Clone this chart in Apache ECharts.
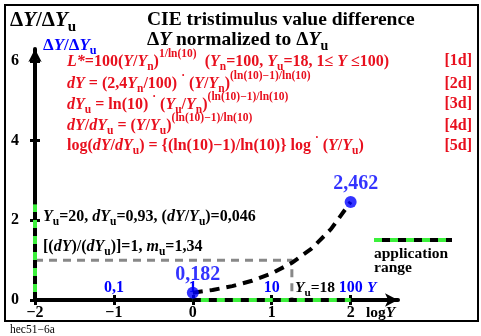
<!DOCTYPE html>
<html><head><meta charset="utf-8">
<script src="https://cdn.jsdelivr.net/npm/echarts@6/dist/echarts.min.js"></script>
<style>html,body{margin:0;padding:0;background:#fff}#c{width:481px;height:336px}</style>
</head><body><div id="c"></div>
<script>
// ---- data ----
const logY = [0, 0.25, 0.5, 0.75, 1, 1.25, 1.5, 1.75, 2];
const ratio = [0.182, 0.252, 0.349, 0.483, 0.669, 0.927, 1.283, 1.777, 2.462];
const endPoints = [[0, 0.182], [2, 2.462]];
const xTicks = [-2, -1, 0, 1, 2];
const yTicks = [0, 2, 4, 6];
const yValueTicks = [-1, 0, 1, 2];
const yValueLabels = ['0,1', '1', '10', '100'];
const appRangeX = [0, 2];
const appRangeY = [0, 2.4];
const refLevel = 1;
const logYu = 1.255;
const xMin = -2, xMax = 2.6, yMin = 0, yMax = 6.3;

const FF = '"Liberation Serif","Times New Roman",serif';
const BLUE = '#0000ff', RED = '#e8101e', GREEN = '#3cf03c';

const mctx = document.createElement('canvas').getContext('2d');
const KINDS = {
  n: {it: 0, sc: 1, dy: 0},
  i: {it: 1, sc: 1, dy: 0},
  sub: {it: 0, sc: 0.72, dy: 0.22},
  sup: {it: 0, sc: 0.72, dy: -0.55}
};
function fontStr(k, S) {
  const d = KINDS[k];
  return (d.it ? 'italic ' : '') + 'bold ' + (S * d.sc).toFixed(1) + 'px ' + FF;
}
function rich(x, base, tokens, S, color, align) {
  let w = 0;
  const ms = tokens.map(t => { mctx.font = fontStr(t[1], S); const tw = mctx.measureText(t[0]).width; w += tw; return tw; });
  let cx = align === 'right' ? x - w : x;
  const out = [];
  tokens.forEach((t, idx) => {
    const d = KINDS[t[1]];
    const sz = S * d.sc;
    out.push({type: 'text', silent: true, z: 100,
      style: {x: cx, y: base + d.dy * S - 0.34 * sz, text: t[0], font: fontStr(t[1], S), fill: color,
        align: 'left', verticalAlign: 'middle', textAlign: 'left', textVerticalAlign: 'middle'}});
    cx += ms[idx];
  });
  return out;
}

const EXP = '(ln(10)\u22121)/ln(10)';
const graphics = [];
graphics.push({type: 'rect', silent: true, shape: {x: 5, y: 5, width: 473, height: 316}, style: {fill: 'none', stroke: '#000', lineWidth: 2}});
const dYYu = [['\u0394', 'n'], ['Y', 'i'], ['/\u0394', 'n'], ['Y', 'i'], ['u', 'sub']];
graphics.push(...rich(10, 28, dYYu, 21, '#000'));
graphics.push(...rich(147, 27, [['CIE tristimulus value difference', 'n']], 19.5, '#000'));
graphics.push(...rich(147, 47, [['\u0394', 'n'], ['Y', 'i'], [' normalized to \u0394', 'n'], ['Y', 'i'], ['u', 'sub']], 19.5, '#000'));
graphics.push(...rich(43, 51, dYYu, 17, BLUE));
const S = 16;
graphics.push(...rich(67, 67, [['L*', 'i'], ['=100(', 'n'], ['Y', 'i'], ['/', 'n'], ['Y', 'i'], ['n', 'sub'], [')', 'n'], ['1/ln(10)', 'sup'],
  ['  (', 'n'], ['Y', 'i'], ['n', 'sub'], ['=100, ', 'n'], ['Y', 'i'], ['u', 'sub'], ['=18, 1\u2264 ', 'n'], ['Y', 'i'], [' \u2264100)', 'n']], S, RED));
graphics.push(...rich(67, 89, [['dY', 'i'], [' = (2,4', 'n'], ['Y', 'i'], ['n', 'sub'], ['/100) ', 'n'], ['\u00b7', 'sup'], [' (', 'n'], ['Y', 'i'], ['/', 'n'], ['Y', 'i'], ['n', 'sub'], [')', 'n'], [EXP, 'sup']], S, RED));
graphics.push(...rich(67, 110, [['dY', 'i'], ['u', 'sub'], [' = ln(10) ', 'n'], ['\u00b7', 'sup'], [' (', 'n'], ['Y', 'i'], ['u', 'sub'], ['/', 'n'], ['Y', 'i'], ['n', 'sub'], [')', 'n'], [EXP, 'sup']], S, RED));
graphics.push(...rich(67, 131, [['dY', 'i'], ['/', 'n'], ['dY', 'i'], ['u', 'sub'], [' = (', 'n'], ['Y', 'i'], ['/', 'n'], ['Y', 'i'], ['u', 'sub'], [')', 'n'], [EXP, 'sup']], S, RED));
graphics.push(...rich(67, 151, [['log(', 'n'], ['dY', 'i'], ['/', 'n'], ['dY', 'i'], ['u', 'sub'], [') = {(ln(10)\u22121)/ln(10)} log ', 'n'], ['\u00b7', 'sup'], [' (', 'n'], ['Y', 'i'], ['/', 'n'], ['Y', 'i'], ['u', 'sub'], [')', 'n']], S, RED));
[['[1d]', 66], ['[2d]', 89], ['[3d]', 109], ['[4d]', 131], ['[5d]', 151]].forEach(r => graphics.push(...rich(472, r[1], [[r[0], 'n']], S, RED, 'right')));
graphics.push(...rich(43, 222, [['Y', 'i'], ['u', 'sub'], ['=20, ', 'n'], ['dY', 'i'], ['u', 'sub'], ['=0,93, (', 'n'], ['dY', 'i'], ['/', 'n'], ['Y', 'i'], ['u', 'sub'], [')=0,046', 'n']], S, '#000'));
graphics.push(...rich(43, 252, [['[(', 'n'], ['dY', 'i'], [')/(', 'n'], ['dY', 'i'], ['u', 'sub'], [')]=1, ', 'n'], ['m', 'i'], ['u', 'sub'], ['=1,34', 'n']], S, '#000'));
graphics.push(...rich(295, 293, [['Y', 'i'], ['u', 'sub'], ['=18', 'n']], 15.5, '#000'));
graphics.push(...rich(367, 293, [['Y', 'i']], 15.5, BLUE));
graphics.push(...rich(366, 318, [['log', 'n'], ['Y', 'i']], 15.5, '#000'));
graphics.push(...rich(374, 259, [['application', 'n']], 15.5, '#000'));
graphics.push(...rich(374, 273, [['range', 'n']], 15.5, '#000'));
graphics.push({type: 'line', silent: true, z: 100, shape: {x1: 374, y1: 240, x2: 452, y2: 240}, style: {stroke: GREEN, lineWidth: 4}});
graphics.push({type: 'line', silent: true, z: 101, shape: {x1: 374, y1: 240, x2: 452, y2: 240}, style: {stroke: '#000', lineWidth: 4, lineDash: [8, 8], lineDashOffset: 8}});
graphics.push({type: 'text', silent: true, z: 100, style: {x: 10, y: 330, text: 'hec51\u22126a', font: '11.5px ' + FF, fill: '#000', align: 'left', verticalAlign: 'middle', textAlign: 'left', textVerticalAlign: 'middle'}});

const lab = (extra) => Object.assign({color: '#000', fontFamily: FF, fontWeight: 'bold', fontSize: 16}, extra);

const option = {
  animation: false,
  backgroundColor: '#fff',
  grid: {left: 35, top: 49, width: 363, height: 251, containLabel: false},
  xAxis: [
    {type: 'value', min: xMin, max: xMax, position: 'bottom', z: 3,
      axisLine: {onZero: false, lineStyle: {color: '#000', width: 4}, symbol: ['none', 'arrow'], symbolSize: [10, 13]},
      axisTick: {show: true, length: 5, lineStyle: {color: '#000', width: 3}, customValues: xTicks},
      axisLabel: lab({customValues: xTicks, margin: 5, formatter: v => String(v).replace('-', '\u2212')}),
      splitLine: {show: false}},
    {type: 'value', min: xMin, max: xMax, position: 'bottom', z: 3,
      axisLine: {show: false, onZero: false},
      axisTick: {show: true, inside: true, length: 5, lineStyle: {color: '#000', width: 3}, customValues: xTicks},
      axisLabel: lab({inside: true, customValues: yValueTicks, margin: 4, color: BLUE, fontSize: 16,
        formatter: v => { const k = yValueTicks.indexOf(v); return k >= 0 ? yValueLabels[k] : ''; }}),
      splitLine: {show: false}}
  ],
  yAxis: [
    {type: 'value', min: yMin, max: yMax, position: 'left', z: 3,
      axisLine: {onZero: false, lineStyle: {color: '#000', width: 4}, symbol: ['none', 'arrow'], symbolSize: [10, 13]},
      axisTick: {show: true, length: 5, lineStyle: {color: '#000', width: 3}, customValues: yTicks},
      axisLabel: lab({customValues: yTicks, margin: 16}),
      splitLine: {show: false}},
    {type: 'value', min: yMin, max: yMax, position: 'left', z: 3,
      axisLine: {show: false, onZero: false},
      axisTick: {show: true, inside: true, length: 5, lineStyle: {color: '#000', width: 3}, customValues: yTicks},
      axisLabel: {show: false}, splitLine: {show: false}}
  ],
  series: [
    {type: 'line', silent: true, symbol: 'none', z: 2,
      data: [[xMin, refLevel], [logYu, refLevel], [logYu, 0]],
      lineStyle: {color: '#888', width: 3, type: [8, 6]}},
    {type: 'line', silent: true, symbol: 'none', z: 4,
      data: [[appRangeX[0], 0], [appRangeX[1], 0]], lineStyle: {color: GREEN, width: 4}},
    {type: 'line', silent: true, symbol: 'none', z: 5,
      data: [[appRangeX[0], 0], [appRangeX[1], 0]], lineStyle: {color: '#000', width: 4, type: [8, 8]}},
    {type: 'line', silent: true, symbol: 'none', z: 4,
      data: [[xMin, appRangeY[0]], [xMin, appRangeY[1]]], lineStyle: {color: GREEN, width: 4}},
    {type: 'line', silent: true, symbol: 'none', z: 5,
      data: [[xMin, appRangeY[0]], [xMin, appRangeY[1]]], lineStyle: {color: '#000', width: 4, type: [8, 8]}},
    {type: 'line', silent: true, symbol: 'none', z: 6,
      data: logY.map((x, i) => [x, ratio[i]]), lineStyle: {color: '#000', width: 4, type: [10, 7]}},
    {type: 'scatter', silent: true, z: 7, symbolSize: 12, data: endPoints,
      itemStyle: {color: BLUE},
      label: {show: true, position: 'top', distance: 2, offset: [5, 0], color: BLUE, fontFamily: FF, fontWeight: 'bold', fontSize: 20,
        formatter: p => String(p.value[1]).replace('.', ',')}}
  ],
  graphic: graphics
};
const chart = echarts.init(document.getElementById('c'), null, {renderer: 'canvas'});
chart.setOption(option);
</script></body></html>
